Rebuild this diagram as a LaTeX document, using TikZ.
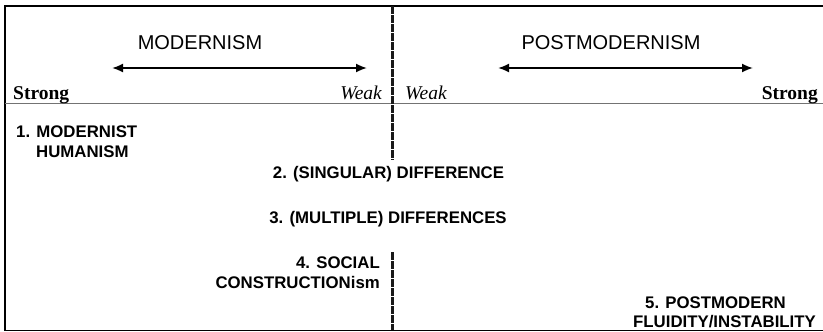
\documentclass[tikz,border=0pt]{standalone}
\usepackage{fontspec}
\setmainfont{Liberation Serif}
\setsansfont{Liberation Sans}
\usetikzlibrary{arrows.meta}
\tikzset{
  head/.style={font=\sffamily\fontsize{20}{24}\selectfont, inner sep=0pt},
  pole/.style={font=\rmfamily\bfseries\fontsize{19.5}{24}\selectfont, inner sep=0pt},
  weakl/.style={font=\rmfamily\itshape\fontsize{19.5}{24}\selectfont, inner sep=0pt},
  lab/.style={font=\sffamily\bfseries\fontsize{16.8}{20}\selectfont, inner sep=0pt},
  dbl/.style={{Latex[length=11pt,width=9pt]}-{Latex[length=11pt,width=9pt]}, line width=1.8pt},
  frame/.style={line width=1.4pt, black},
  sep/.style={line width=1pt, black!55},
  divider/.style={line width=3pt, black!90, dash pattern=on 8pt off 1pt}
}
\begin{document}
\begin{tikzpicture}[x=1pt,y=-1pt]
\useasboundingbox (0,0) rectangle (823,332);
% frame
\coordinate (tl) at (5,6);
\coordinate (tr) at (823,6);
\coordinate (bl) at (5,330.5);
\coordinate (bl2) at (4,330.5);
\coordinate (br) at (823,330.5);
\coordinate (sl) at (5,103);
\coordinate (sr) at (823,103);
\draw[frame] (tr) -- (tl) -- (bl);
\draw[frame] (bl2) -- (br);
\draw[sep] (sl) -- (sr);
% divider
\coordinate (d1) at (392,6);
\coordinate (d2) at (392,160);
\coordinate (d3) at (392,252);
\coordinate (d4) at (392,330);
\draw[divider] (d1) -- (d2);
\draw[divider] (d3) -- (d4);
% headings
\node[head] (mod) at (200,43) {MODERNISM};
\node[head] (pmod) at (611,43) {POSTMODERNISM};
\coordinate (a1) at (112,68);
\coordinate (a2) at (367,68);
\coordinate (b1) at (498,68);
\coordinate (b2) at (753,68);
\draw[dbl] (a1) -- (a2);
\draw[dbl] (b1) -- (b2);
% poles
\node[pole, anchor=base west] (s1) at (13,99.5) {Strong};
\node[weakl, anchor=base east] (w1) at (382,99.5) {Weak};
\node[weakl, anchor=base west] (w2) at (405,99.5) {Weak};
\node[pole, anchor=base east] (s2) at (818,99.5) {Strong};
% labels
\node[lab, anchor=base west] (l1a) at (16,137) {1. MODERNIST};
\node[lab, anchor=base west] (l1b) at (36,157) {HUMANISM};
\node[lab, anchor=base] (l2) at (388.5,178) {2. (SINGULAR) DIFFERENCE};
\node[lab, anchor=base] (l3) at (388,223) {3. (MULTIPLE) DIFFERENCES};
\node[lab, anchor=base east] (l4a) at (380,268) {4. SOCIAL};
\node[lab, anchor=base east] (l4b) at (380,288) {CONSTRUCTIONism};
\node[lab, anchor=base west] (l5a) at (645,308) {5. POSTMODERN};
\node[lab, anchor=base west] (l5b) at (633,327) {FLUIDITY/INSTABILITY};
\end{tikzpicture}
\end{document}
